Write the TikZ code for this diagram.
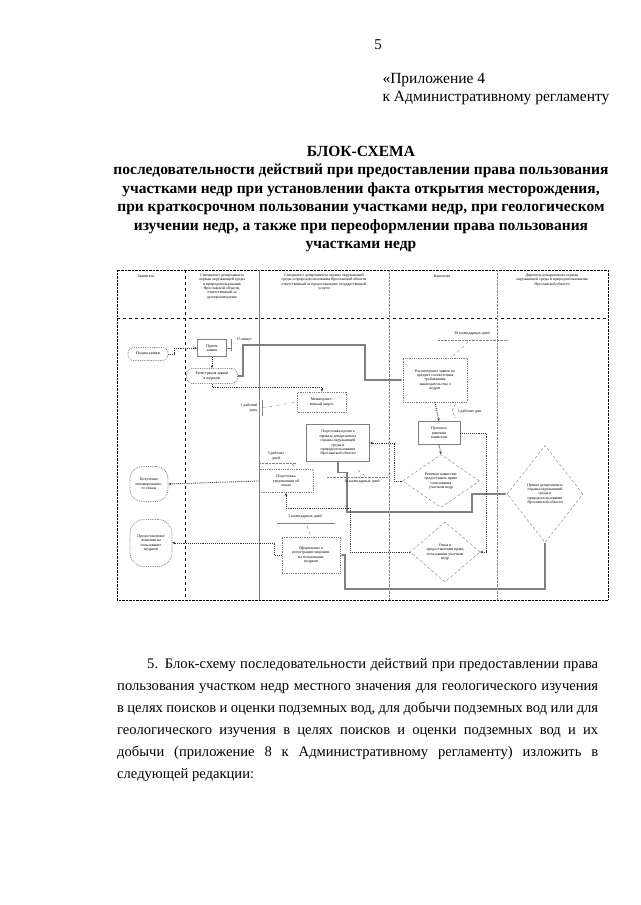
\documentclass[tikz,border=0pt]{standalone}
\usepackage{fontspec}
\setmainfont{Liberation Serif}
\usetikzlibrary{arrows.meta}
\usetikzlibrary{shapes.geometric}
\usetikzlibrary{calc}

\begin{document}
\begin{tikzpicture}[x=1pt,y=-1pt,
  txt/.style={font=\fontsize{3.9}{4.4}\selectfont, align=center, inner sep=0.5pt},
  dotbox/.style={txt, draw=gray, densely dotted, thick},
  solbox/.style={txt, draw=gray, thick},
  oval/.style={txt, draw=gray, densely dotted, thick, rounded corners=6pt},
  romb/.style={draw=gray, densely dashed, diamond, inner sep=0pt},
  link/.style={draw=black!80, densely dotted, line width=0.9pt, -{Stealth[length=3pt,width=2.5pt]}},
  glink/.style={draw=gray, line width=1.1pt, -{Stealth[length=3pt,width=2.5pt]}},
  note/.style={draw=gray, thin}]
  \useasboundingbox[fill=white] (0,0) rectangle (640,905);
  % page head
  \node[font=\fontsize{15}{18}\selectfont] (pg) at (378,45) {5};
  \node[font=\fontsize{15.5}{18}\selectfont, anchor=west, align=left] (app) at (379,89)
    {«Приложение 4\\[-0.5pt]к Административному регламенту};
  \node[font=\bfseries\fontsize{15.5}{18.5}\selectfont, align=center] (title) at (361,199)
    {БЛОК-СХЕМА\\
     последовательности действий при предоставлении права пользования\\
     участками недр при установлении факта открытия месторождения,\\
     при краткосрочном пользовании участками недр, при геологическом\\
     изучении недр, а также при переоформлении права пользования\\
     участками недр};
  % table
  \draw[densely dotted] (117,270) rectangle (608,600);
  \draw[dashed] (117,318) -- (608,318);
  \draw[dashed] (185,270) -- (185,600);
  \draw[gray] (259,270) -- (259,600);
  \draw[gray, densely dotted] (389,270) -- (389,600);
  \draw[gray, densely dotted] (497,270) -- (497,600);
  \node[txt] (h1) at (146,276) {Заявитель};
  \node[txt, anchor=north] (h2) at (222,273)
    {Специалист департамента\\охраны окружающей среды\\и природопользования\\Ярославской области,\\ответственный за\\делопроизводство};
  \node[txt, anchor=north] (h3) at (324,273)
    {Специалист департамента охраны окружающей\\среды и природопользования Ярославской области\\ответственный за предоставление государственной\\услуги};
  \node[txt] (h4) at (442,276) {Комиссия};
  \node[txt, anchor=north] (h5) at (552,273)
    {Директор департамента охраны\\окружающей среды и природопользования\\Ярославской области};
  % blocks
  \node[oval, minimum width=40, minimum height=13] (podacha) at (148,354) {Подача заявки};
  \node[solbox, minimum width=29, minimum height=17] (priem) at (212,348) {Прием\\заявки};
  \node[oval, minimum width=51, minimum height=15] (registr) at (212,376) {Регистрация заявки\\в журнале};
  \node[dotbox, minimum width=49, minimum height=20] (zapros) at (322,402) {Межведомст-\\венный запрос};
  \node[dotbox, minimum width=64, minimum height=44] (rassm) at (435,380)
    {Рассмотрение заявок на\\предмет соответствия\\требованиям\\законодательства о\\недрах};
  \node[solbox, minimum width=42, minimum height=23] (protokol) at (439,433) {Протокол\\решения\\комиссии};
  \node[romb, minimum width=77, minimum height=53,
    label={[txt]center:Решение комиссии:\\предоставить право\\пользования\\участком недр}] (reshenie) at (441,481) {};
  \node[solbox, minimum width=63, minimum height=37] (proekt) at (338,443)
    {Подготовка проекта\\приказа департамента\\охраны окружающей\\среды и\\природопользования\\Ярославской области};
  \node[romb, minimum width=76, minimum height=97,
    label={[txt]center:Приказ департамента\\охраны окружающей\\среды и\\природопользования\\Ярославской области}] (prikaz) at (545,494) {};
  \node[dotbox, minimum width=54, minimum height=23] (uvedoml) at (286,481) {Подготовка\\уведомления об\\отказе};
  \node[oval, rounded corners=12pt, minimum width=38, minimum height=35] (motiv) at (149,484)
    {Получение\\мотивированно-\\го отказа};
  \node[romb, minimum width=70, minimum height=60,
    label={[txt]center:Отказ в\\предоставлении права\\пользования участком\\недр}] (otkaz) at (445,552) {};
  \node[dotbox, minimum width=58, minimum height=36] (oform) at (311,555)
    {Оформление и\\регистрация лицензии\\на пользование\\недрами};
  \node[oval, rounded corners=14pt, minimum width=42, minimum height=47] (predost) at (151,543)
    {Предоставление\\лицензии на\\пользование\\недрами};
  % connectors
  \coordinate (k1) at (243,345);
  \coordinate (k2) at (365,345);
  \coordinate (k3) at (322,387);
  \coordinate (k4) at (347,512);
  \coordinate (k5) at (472,512);
  \coordinate (k7) at (350,508);
  \coordinate (k8) at (345,589);
  \draw[link] (podacha.east) -- ++(6,0) |- (priem.west);
  \draw[link] (priem.south) -- (registr.north);
  \draw[glink] (registr.east) -| (k1) -- (k2) |- (rassm.west);
  \draw[link] (registr.south) |- (k3) -- (zapros.north);
  \draw[link] (rassm.south) -- (protokol.north);
  \draw[link] (protokol.south) -- (reshenie.north);
  \draw[link] (reshenie.west) -- ++(-8,0) |- (proekt.east);
  \draw[glink] (proekt.south) -- ++(0,11) -| (k4) -- (k5) |- (prikaz.west);
  \draw[link] (protokol.east) -- ++(26,0) |- (otkaz.east);
  \draw[link] (otkaz.west) -| (k7) -| (uvedoml.south);
  \draw[link] (uvedoml.west) -- (motiv.east);
  \draw[glink] (prikaz.south) |- (k8) |- (oform.east);
  \draw[link] (oform.west) -- ++(-7,0) |- (predost.east);
  % time notes
  \node[txt, anchor=west] (t15) at (236,340) {15 минут};
  \draw[note] (231,339) -- (231,351);
  \draw[note] (priem.east) -- (231,348);
  \node[txt, anchor=east, align=right] (t1) at (258,408) {1 рабочий\\день};
  \draw[note] (262,400) -- (262,416);
  \draw[note, dash dot] (262,408) -- (zapros.west);
  \node[txt] (t30) at (472,334) {30 календарных дней};
  \draw[note, densely dotted] (438,340) -- (508,340);
  \draw[note, dashed] (468,342) -- (452,357);
  \node[txt, anchor=west] (t3) at (457,412) {3 рабочих дня};
  \draw[note, densely dashed] (456,404) .. controls (451,410) .. (456,418);
  \node[txt] (t5) at (276,456) {5 рабочих\\дней};
  \draw[note, densely dotted] (259,463) -- (296,463);
  \draw[note, dashed] (292,464) -- (296,468);
  \node[txt] (t14) at (362,482) {14 календарных дней};
  \draw[note, densely dotted] (327,477) -- (389,477);
  \draw[note, dashed] (358,470) -- (365,476);
  \node[txt] (t5k) at (305,517) {5 календарных дней};
  \draw[note] (277,523) -- (335,523);
  \draw[note, dashed] (307,526) -- (310,534);
  % paragraph below
  \node[font=\fontsize{14.6}{22}\selectfont, anchor=north west, align=left, inner sep=0] (par) at (117,658)
    {\hspace*{30pt}\makebox[451pt][s]{5. Блок-схему последовательности действий при предоставлении права}\\
     \makebox[481pt][s]{пользования участком недр местного значения для геологического изучения}\\
     \makebox[481pt][s]{в целях поисков и оценки подземных вод, для добычи подземных вод или для}\\
     \makebox[481pt][s]{геологического изучения в целях поисков и оценки подземных вод и их}\\
     \makebox[481pt][s]{добычи (приложение 8 к Административному регламенту) изложить в}\\
     следующей редакции:};
\end{tikzpicture}
\end{document}
